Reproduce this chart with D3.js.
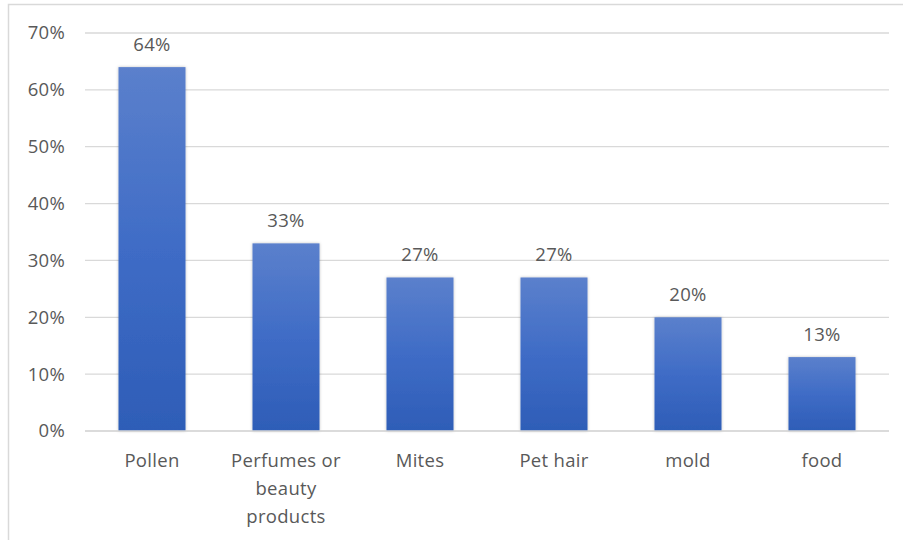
<!DOCTYPE html>
<html>
<head>
<meta charset="utf-8">
<script src="https://cdn.jsdelivr.net/npm/d3@7/dist/d3.min.js"></script>
<style>
  html, body { margin: 0; padding: 0; background: #fff; }
  svg text { font-family: "Open Sans", "Liberation Sans", sans-serif; fill: #595959; letter-spacing: 0.3px; }
</style>
</head>
<body>
<svg id="chart" width="903" height="540"></svg>
<script>
// Allergen triggers (share of respondents)
const categories = ["Pollen", "Perfumes or beauty products", "Mites", "Pet hair", "mold", "food"];
const categoryLines = [["Pollen"], ["Perfumes or", "beauty", "products"], ["Mites"], ["Pet hair"], ["mold"], ["food"]];
const values = [0.64, 0.33, 0.27, 0.27, 0.20, 0.13];
const yTicks = [0, 0.1, 0.2, 0.3, 0.4, 0.5, 0.6, 0.7];

const svg = d3.select("#chart");
const W = 903, H = 540;
const plot = { left: 85, right: 889, top: 33, bottom: 431 };
const FS = 18.5;

// outer chart frame
svg.append("rect")
  .attr("x", 8.5).attr("y", 4.5)
  .attr("width", W - 7).attr("height", H)
  .attr("fill", "#fff").attr("stroke", "#d9d9d9").attr("stroke-width", 1.5);

const defs = svg.append("defs");
const grad = defs.append("linearGradient")
  .attr("id", "barGrad").attr("x1", 0).attr("y1", 0).attr("x2", 0).attr("y2", 1);
grad.append("stop").attr("offset", "0%").attr("stop-color", "#5b80cc");
grad.append("stop").attr("offset", "50%").attr("stop-color", "#3f6cc6");
grad.append("stop").attr("offset", "100%").attr("stop-color", "#2e5db7");

const shadow = defs.append("filter").attr("id", "barShadow")
  .attr("x", "-20%").attr("y", "-10%").attr("width", "140%").attr("height", "120%");
shadow.append("feDropShadow")
  .attr("dx", 0).attr("dy", 0).attr("stdDeviation", 1.5)
  .attr("flood-color", "#000").attr("flood-opacity", 0.25);

const x = d3.scaleBand().domain(categories)
  .range([plot.left, plot.right]).paddingInner(0.5).paddingOuter(0.25);
const y = d3.scaleLinear().domain([0, 0.7]).range([plot.bottom, plot.top]);

// gridlines
svg.append("g").selectAll("line").data(yTicks).join("line")
  .attr("x1", plot.left).attr("x2", plot.right)
  .attr("y1", d => y(d)).attr("y2", d => y(d))
  .attr("stroke", "#d9d9d9").attr("stroke-width", 1.3);

// y axis labels
const yAxis = d3.axisLeft(y).tickValues(yTicks).tickFormat(d3.format(".0%")).tickSize(0).tickPadding(0);
const yg = svg.append("g").attr("transform", "translate(65,0)").call(yAxis);
yg.select(".domain").remove();
yg.selectAll("text").attr("font-size", FS).style("fill", "#595959")
  .style("font-family", '"Open Sans", "Liberation Sans", sans-serif');

// bars
svg.append("g").selectAll("rect").data(values).join("rect")
  .attr("x", (d, i) => x(categories[i]))
  .attr("width", x.bandwidth())
  .attr("y", d => y(d))
  .attr("height", d => y(0) - y(d))
  .attr("fill", "url(#barGrad)")
  .attr("filter", "url(#barShadow)");

// baseline
svg.append("line")
  .attr("x1", plot.left).attr("x2", plot.right)
  .attr("y1", y(0)).attr("y2", y(0))
  .attr("stroke", "#d9d9d9").attr("stroke-width", 1.5);

// value labels
svg.append("g").selectAll("text").data(values).join("text")
  .attr("x", (d, i) => x(categories[i]) + x.bandwidth() / 2)
  .attr("y", d => y(d) - 16)
  .attr("text-anchor", "middle")
  .attr("font-size", FS)
  .text(d3.format(".0%"));

// category labels (wrapped)
const cat = svg.append("g").selectAll("text").data(categories).join("text")
  .attr("text-anchor", "middle")
  .attr("font-size", FS)
  .attr("x", d => x(d) + x.bandwidth() / 2)
  .attr("y", 467);
cat.each(function(d, i) {
  const t = d3.select(this);
  categoryLines[i].forEach((line, j) => {
    t.append("tspan")
      .attr("x", x(d) + x.bandwidth() / 2)
      .attr("y", 467 + j * 28)
      .text(line);
  });
});
</script>
</body>
</html>
